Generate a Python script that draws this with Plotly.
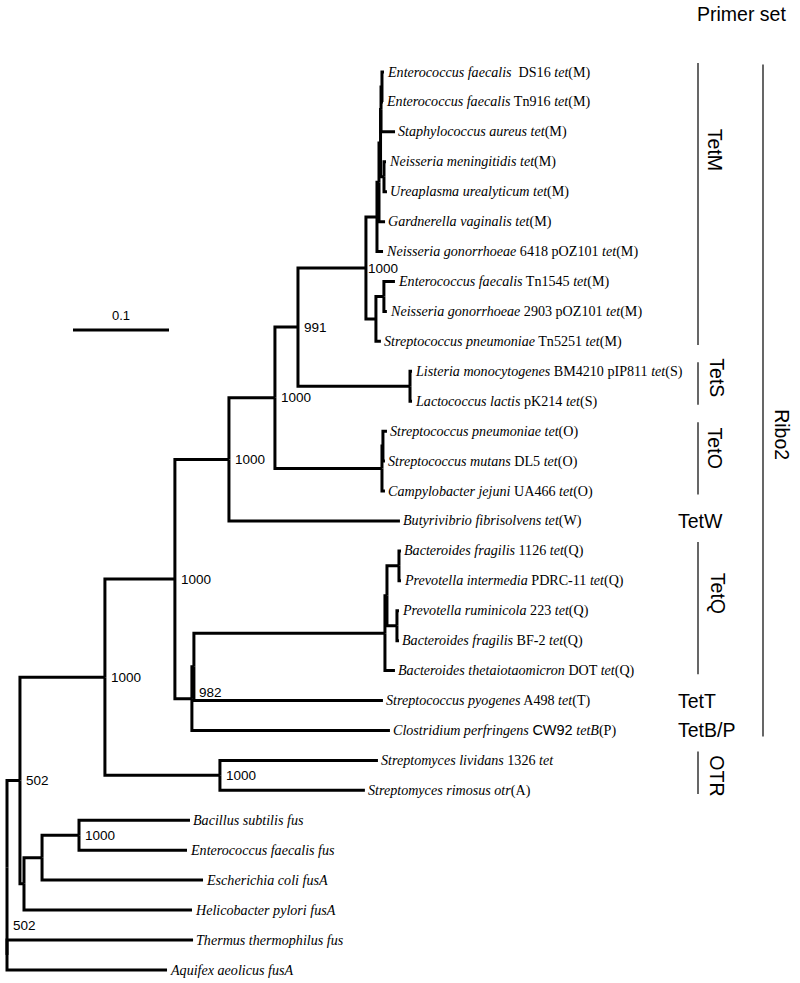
import plotly.graph_objects as go

# ---------------- DATA ----------------
# Tree topology: node ids, parent ids, branch lengths (substitutions/site)
NODE_IDS = [
    "root", "N502a", "W", "Thermus", "Aquifex",
    "N1000a", "Nfus",
    "N1000b", "Nstrepto",
    "N1000c", "N982",
    "N1000d", "Butyr",
    "N991", "NtetO",
    "N1000M", "NtetS",
    "NM1", "NM2",
    "NM1a", "Ngon6418",
    "NM1b", "Gard",
    "NM1c", "NmenUrea",
    "DSTn", "Saureus",
    "DS16", "Tn916",
    "Nmen", "Urea",
    "NM2a", "Tn5251",
    "Tn1545", "Ngon2903",
    "Listeria", "Lacto",
    "NtetO2", "Campy",
    "SpneuO", "Smut",
    "Z", "Clost",
    "NtetQ", "Pyog",
    "Y", "Btheta",
    "NQ1", "NQ2",
    "Bfrag1126", "Pint",
    "Prum", "BF2",
    "Lividans", "Rimosus",
    "Nfus2", "Helico",
    "Nfus3", "Ecoli",
    "Bacillus", "Effus",
]
NODE_PARENTS = [
    None, "root", "root", "W", "W",
    "N502a", "N502a",
    "N1000a", "N1000a",
    "N1000b", "N1000b",
    "N1000c", "N1000c",
    "N1000d", "N1000d",
    "N991", "N991",
    "N1000M", "N1000M",
    "NM1", "NM1",
    "NM1a", "NM1a",
    "NM1b", "NM1b",
    "NM1c", "NM1c",
    "DSTn", "DSTn",
    "NmenUrea", "NmenUrea",
    "NM2", "NM2",
    "NM2a", "NM2a",
    "NtetS", "NtetS",
    "NtetO", "NtetO",
    "NtetO2", "NtetO2",
    "N982", "N982",
    "Z", "Z",
    "NtetQ", "NtetQ",
    "Y", "Y",
    "NQ1", "NQ1",
    "NQ2", "NQ2",
    "Nstrepto", "Nstrepto",
    "Nfus", "Nfus",
    "Nfus2", "Nfus2",
    "Nfus3", "Nfus3",
]
BRANCH_LENGTHS = [
    0.0, 0.0135, 0.0, 0.1938, 0.1667,
    0.0885, 0.0042,
    0.0729, 0.1198,
    0.0563, 0.0177,
    0.0479, 0.1781,
    0.0240, 0.1115,
    0.0708, 0.1167,
    0.0115, 0.0104,
    0.0021, 0.0063,
    0.0016, 0.0063,
    0.0005, 0.0036,
    0.0010, 0.0146,
    0.0021, 0.0010,
    0.0021, 0.0031,
    0.0083, 0.0052,
    0.0115, 0.0031,
    0.0021, 0.0021,
    0.0010, 0.0031,
    0.0042, 0.0021,
    0.0021, 0.2063,
    0.1990, 0.1969,
    0.0021, 0.0104,
    0.0125, 0.0104,
    0.0021, 0.0021,
    0.0021, 0.0021,
    0.1646, 0.1510,
    0.0188, 0.1750,
    0.0385, 0.1677,
    0.1156, 0.1125,
]
LEAF_LABELS = {
    "DS16": "<i>Enterococcus faecalis</i>\u00a0 DS16 <i>tet</i>(M)",
    "Tn916": "<i>Enterococcus faecalis</i> Tn916 <i>tet</i>(M)",
    "Saureus": "<i>Staphylococcus aureus tet</i>(M)",
    "Nmen": "<i>Neisseria meningitidis tet</i>(M)",
    "Urea": "<i>Ureaplasma urealyticum tet</i>(M)",
    "Gard": "<i>Gardnerella vaginalis tet</i>(M)",
    "Ngon6418": "<i>Neisseria gonorrhoeae</i> 6418 pOZ101 <i>tet</i>(M)",
    "Tn1545": "<i>Enterococcus faecalis</i> Tn1545 <i>tet</i>(M)",
    "Ngon2903": "<i>Neisseria gonorrhoeae</i> 2903 pOZ101 <i>tet</i>(M)",
    "Tn5251": "<i>Streptococcus pneumoniae</i> Tn5251 <i>tet</i>(M)",
    "Listeria": "<i>Listeria monocytogenes</i> BM4210 pIP811 <i>tet</i>(S)",
    "Lacto": "<i>Lactococcus lactis</i> pK214 <i>tet</i>(S)",
    "SpneuO": "<i>Streptococcus pneumoniae tet</i>(O)",
    "Smut": "<i>Streptococcus mutans</i> DL5 <i>tet</i>(O)",
    "Campy": "<i>Campylobacter jejuni</i> UA466 <i>tet</i>(O)",
    "Butyr": "<i>Butyrivibrio fibrisolvens tet</i>(W)",
    "Bfrag1126": "<i>Bacteroides fragilis</i> 1126 <i>tet</i>(Q)",
    "Pint": "<i>Prevotella intermedia</i> PDRC-11 <i>tet</i>(Q)",
    "Prum": "<i>Prevotella ruminicola</i> 223 <i>tet</i>(Q)",
    "BF2": "<i>Bacteroides fragilis</i> BF-2 <i>tet</i>(Q)",
    "Btheta": "<i>Bacteroides thetaiotaomicron</i> DOT <i>tet</i>(Q)",
    "Pyog": "<i>Streptococcus pyogenes</i> A498 <i>tet</i>(T)",
    "Clost": "<i>Clostridium perfringens</i> <span style=\"font-family:'Liberation Sans', Arial;font-size:14.5px\">CW92</span> <i>tetB</i>(P)",
    "Lividans": "<i>Streptomyces lividans</i> 1326 <i>tet</i>",
    "Rimosus": "<i>Streptomyces rimosus otr</i>(A)",
    "Bacillus": "<i>Bacillus subtilis fus</i>",
    "Effus": "<i>Enterococcus faecalis fus</i>",
    "Ecoli": "<i>Escherichia coli fusA</i>",
    "Helico": "<i>Helicobacter pylori fusA</i>",
    "Thermus": "<i>Thermus thermophilus fus</i>",
    "Aquifex": "<i>Aquifex aeolicus fusA</i>",
}
BOOTSTRAP_NODES = ["N1000M", "N991", "N1000d", "N1000c", "N1000b", "N982",
                   "N1000a", "Nstrepto", "N502a", "W", "Nfus3"]
BOOTSTRAP_VALUES = [1000, 991, 1000, 1000, 1000, 982, 1000, 1000, 502, 502, 1000]

GROUP_NAMES = ["TetM", "TetS", "TetO", "TetW", "TetQ", "TetT", "TetB/P", "OTR"]
GROUP_FIRST = ["DS16", "Listeria", "SpneuO", "Butyr", "Bfrag1126", "Pyog", "Clost", "Lividans"]
GROUP_LAST = ["Tn5251", "Lacto", "Campy", "Butyr", "Btheta", "Pyog", "Clost", "Rimosus"]
PRIMER_NAME, PRIMER_FIRST, PRIMER_LAST = "Ribo2", "DS16", "Clost"
SCALE_BAR_LENGTH = 0.1

# ---------------- LAYOUT / STYLE CONSTANTS ----------------
W_PX, H_PX = 800, 983
X0_PX, PX_PER_UNIT = 7, 960
Y0_PX, ROW_PX = 72, 29.93
SERIF = "'Liberation Serif', 'Times New Roman', serif"
SANS = "'Liberation Sans', Arial, sans-serif"
# rotated-label placement (leaf-row units) for bracketed groups
GROUP_LABEL_ROW = {"TetM": 2.6, "TetS": 10.2, "TetO": 12.55, "TetQ": 17.4, "OTR": 23.5}
GROUP_LABEL_XPX = {"TetM": 715, "TetS": 717, "TetO": 715, "TetQ": 718, "OTR": 717}
PRIMER_LABEL_ROW = 12.1

# ---------------- TREE LAYOUT ----------------
parent = dict(zip(NODE_IDS, NODE_PARENTS))
blen = dict(zip(NODE_IDS, BRANCH_LENGTHS))
children = {n: [] for n in NODE_IDS}
for n, p in zip(NODE_IDS, NODE_PARENTS):
    if p is not None:
        children[p].append(n)

xpos, ypos, leaf_order = {}, {}, []


def walk(n, depth):
    xpos[n] = depth + blen[n]
    if not children[n]:
        ypos[n] = len(leaf_order)
        leaf_order.append(n)
    else:
        for c in children[n]:
            walk(c, xpos[n])
        ypos[n] = (ypos[children[n][0]] + ypos[children[n][-1]]) / 2


walk("root", 0.0)

bx, by = [], []
for n in NODE_IDS:
    p = parent[n]
    if p is None:
        continue
    bx += [xpos[p], xpos[p], xpos[n], None]
    by += [ypos[p], ypos[n], ypos[n], None]

fig = go.Figure()
fig.add_trace(go.Scatter(x=bx, y=by, mode="lines",
                         line=dict(color="black", width=3),
                         hoverinfo="skip", showlegend=False))


def px2x(px):
    return (px - X0_PX) / PX_PER_UNIT


def px2row(py):
    return (py - Y0_PX) / ROW_PX


# scale bar
sb_x0 = px2x(73)
sb_y = px2row(330)
fig.add_trace(go.Scatter(x=[sb_x0, sb_x0 + SCALE_BAR_LENGTH], y=[sb_y, sb_y],
                         mode="lines", line=dict(color="black", width=3),
                         hoverinfo="skip", showlegend=False))

ann = []
ann.append(dict(x=sb_x0 + SCALE_BAR_LENGTH / 2, y=sb_y, yshift=15, text=str(SCALE_BAR_LENGTH),
                xanchor="center", showarrow=False,
                font=dict(family=SANS, size=13, color="black")))

# leaf labels
for n in leaf_order:
    ann.append(dict(x=xpos[n], y=ypos[n], text=LEAF_LABELS[n], xanchor="left",
                    yanchor="middle", xshift=1, showarrow=False,
                    font=dict(family=SERIF, size=14.1, color="black")))

# bootstrap labels
bs_shift = {"N982": (5, 6), "W": (4, 29), "N1000M": (0, -1)}
for n, v in zip(BOOTSTRAP_NODES, BOOTSTRAP_VALUES):
    dx, dy = bs_shift.get(n, (4, 0))
    ann.append(dict(x=xpos[n], y=ypos[n], text=str(v), xanchor="left", yanchor="middle",
                    xshift=dx, yshift=dy, showarrow=False,
                    font=dict(family=SANS, size=13.5, color="black")))

shapes = []
leaf_idx = {n: i for i, n in enumerate(leaf_order)}

for name, f, l in zip(GROUP_NAMES, GROUP_FIRST, GROUP_LAST):
    i0, i1 = leaf_idx[f], leaf_idx[l]
    if i0 == i1:
        ann.append(dict(x=px2x(676), y=i0, text=name, xanchor="left", yanchor="middle",
                        showarrow=False, font=dict(family=SANS, size=19.5, color="black")))
    else:
        shapes.append(dict(type="line", x0=px2x(698), x1=px2x(698), y0=i0 - 0.3, y1=i1 + 0.12,
                           line=dict(color="black", width=1.2)))
        ann.append(dict(x=px2x(GROUP_LABEL_XPX[name]), y=GROUP_LABEL_ROW[name], text=name,
                        textangle=90, xanchor="center", yanchor="middle",
                        showarrow=False, font=dict(family=SANS, size=19.5, color="black")))

p0, p1 = leaf_idx[PRIMER_FIRST], leaf_idx[PRIMER_LAST]
shapes.append(dict(type="line", x0=px2x(763), x1=px2x(763), y0=p0 - 0.25, y1=p1 + 0.2,
                   line=dict(color="black", width=1.2)))
ann.append(dict(x=px2x(782), y=PRIMER_LABEL_ROW, text=PRIMER_NAME, textangle=90,
                xanchor="center", yanchor="middle",
                showarrow=False, font=dict(family=SANS, size=19.5, color="black")))
ann.append(dict(x=741 / W_PX, y=1 - 14 / H_PX, xref="paper", yref="paper", text="Primer set",
                xanchor="center", yanchor="middle",
                showarrow=False, font=dict(family=SANS, size=19.5, color="black")))

fig.update_layout(
    width=W_PX, height=H_PX, autosize=False,
    margin=dict(l=0, r=0, t=0, b=0),
    paper_bgcolor="white", plot_bgcolor="white",
    xaxis=dict(range=[px2x(0), px2x(W_PX)], visible=False, fixedrange=True),
    yaxis=dict(range=[px2row(H_PX), px2row(0)], visible=False, fixedrange=True),
    annotations=ann, shapes=shapes, showlegend=False,
)
fig.write_html("out.html", config={"displayModeBar": False},
               post_script="document.body.style.margin='0';document.body.style.overflow='hidden';")
